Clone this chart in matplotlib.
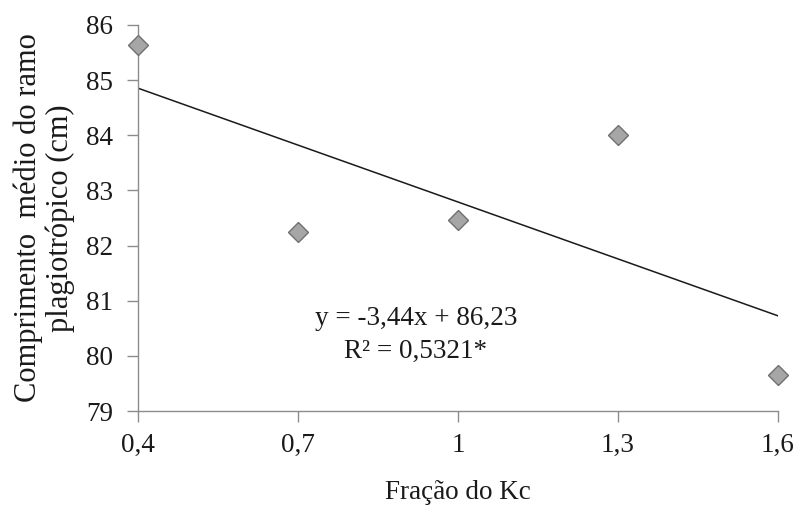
import matplotlib
matplotlib.use("Agg")
import matplotlib.pyplot as plt
import numpy as np

x_vals = [0.4, 0.7, 1.0, 1.3, 1.6]
y_vals = [85.63, 82.25, 82.47, 84.0, 79.65]
slope, intercept = -3.44, 86.23
x_ticks = [0.4, 0.7, 1.0, 1.3, 1.6]
x_ticklabels = ["0,4", "0,7", "1", "1,3", "1,6"]
y_ticks = [79, 80, 81, 82, 83, 84, 85, 86]

plt.rcParams['font.family'] = ['Liberation Serif', 'DejaVu Serif']

fig = plt.figure(figsize=(7.96, 5.09), dpi=100)
ax = fig.add_axes([0.1734, 0.1925, 0.804, 0.7584])

xl = np.array([0.4, 1.6])
ax.plot(xl, slope * xl + intercept, color='#1a1a1a', lw=1.1, zorder=2)
ax.plot(x_vals, y_vals, linestyle='none', marker='D', markersize=10,
        markerfacecolor='#a6a6a6', markeredgecolor='#707070', markeredgewidth=1.0,
        zorder=3, clip_on=False)

ax.set_xlim(0.4, 1.6)
ax.set_ylim(79, 86)
ax.set_xticks(x_ticks)
ax.set_xticklabels(x_ticklabels)
ax.set_yticks(y_ticks)

for s in ['top', 'right']:
    ax.spines[s].set_visible(False)
for s in ['left', 'bottom']:
    ax.spines[s].set_color('#8c8c8c')
    ax.spines[s].set_linewidth(1.0)
ax.tick_params(axis='both', direction='out', length=8, width=1.0, color='#8c8c8c',
               labelsize=19.5, labelcolor='#1a1a1a')
ax.tick_params(axis='x', pad=8)
ax.tick_params(axis='y', pad=10)

ax.set_xlabel('Fração do Kc', fontsize=19.5, color='#1a1a1a', labelpad=16)
ax.set_ylabel('Comprimento  médio do ramo\nplagiotrópico (cm)', fontsize=22,
              color='#1a1a1a', labelpad=8, linespacing=1.1)

ax.text(0.921, 80.67, 'y = -3,44x + 86,23', ha='center', va='center', fontsize=19.5, color='#1a1a1a')
ax.text(0.921, 80.09, 'R² = 0,5321*', ha='center', va='center', fontsize=19.5, color='#1a1a1a')

fig.savefig('out.png', dpi=100)
